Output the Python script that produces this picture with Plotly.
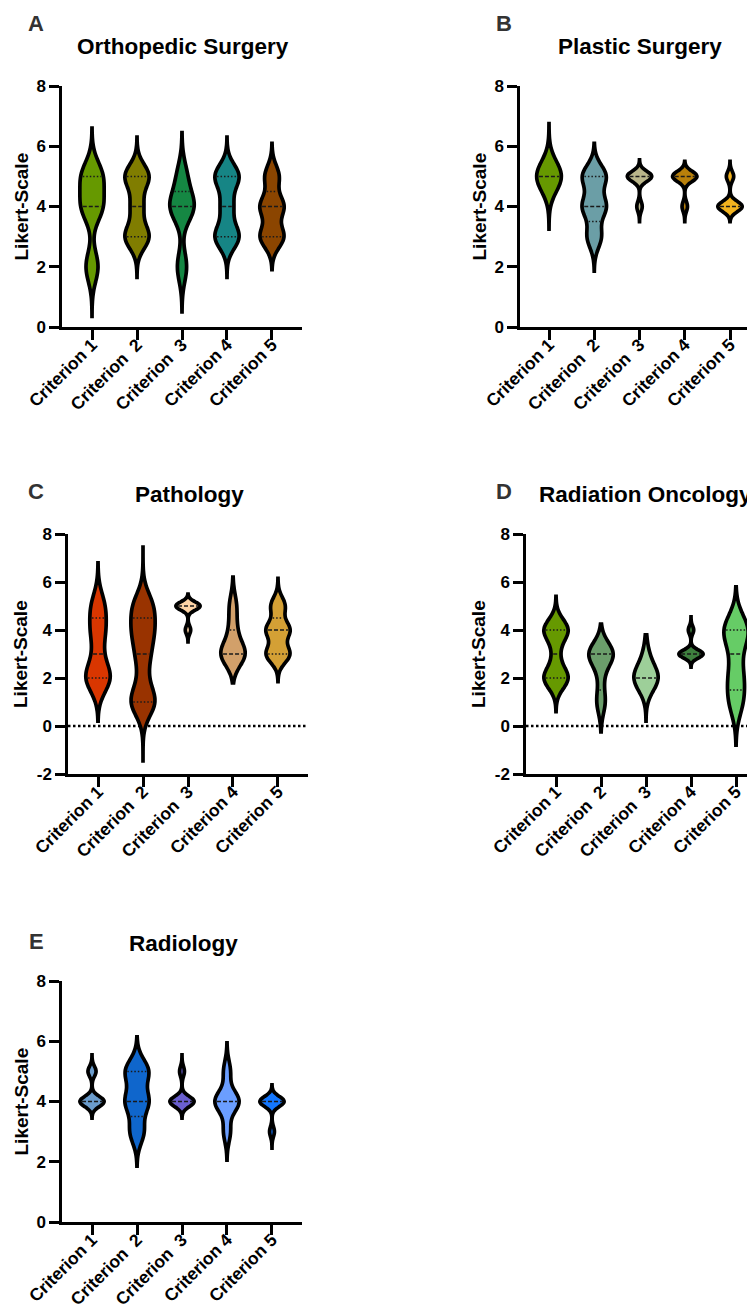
import numpy as np
import plotly.graph_objects as go

# ---------------- data ----------------
likert_levels = [1, 2, 3, 4, 5]
criteria = ["Criterion 1", "Criterion\u00a0 2", "Criterion\u00a0 3", "Criterion 4", "Criterion 5"]
y_ticks_pos = [0, 2, 4, 6, 8]
y_ticks_neg = [-2, 0, 2, 4, 6, 8]

# number of responses at Likert levels 1..5, one row per criterion
ortho_counts = [
    [0, 3, 0, 5, 5],
    [0, 0, 4, 2, 4],
    [0, 2, 0, 5, 2],
    [0, 0, 4, 2, 4],
    [0, 0, 5, 5, 3],
]
plastic_counts = [
    [0, 0, 0, 0, 8],
    [0, 0, 3, 5, 5],
    [0, 0, 0, 2, 9],
    [0, 0, 0, 2, 9],
    [0, 0, 0, 10, 3],
]
patho_counts = [
    [0, 4, 1, 2, 2],
    [4, 1, 2, 3, 3],
    [0, 0, 0, 2, 9],
    [0, 0, 7, 2, 2],
    [0, 0, 5, 5, 3],
]
radonc_counts = [
    [0, 4, 1, 4, 0],
    [2, 1, 6, 0, 0],
    [0, 6, 1, 0, 0],
    [0, 0, 9, 2, 0],
    [2, 2, 1, 4, 0],
]
radio_counts = [
    [0, 0, 0, 9, 3],
    [0, 0, 3, 5, 5],
    [0, 0, 0, 10, 2],
    [0, 0, 2, 7, 2],
    [0, 0, 2, 10, 0],
]

# ---------------- styles (kernel bandwidth, drawn extent, colours) ----------------
ortho_bw = [0.5, 0.4, 0.5, 0.4, 0.37]
ortho_span = [(0.35, 6.6), (1.65, 6.3), (0.5, 6.45), (1.65, 6.3), (1.9, 6.1)]
ortho_colors = ["#669900", "#807d00", "#158743", "#168585", "#8b4500"]

plastic_bw = [0.5, 0.38, 0.17, 0.17, 0.17]
plastic_span = [(3.25, 6.75), (1.85, 6.1), (3.5, 5.55), (3.5, 5.5), (3.5, 5.5)]
plastic_colors = ["#669900", "#6b9ea6", "#bab68a", "#b8800b", "#f2b31f"]

patho_bw = [0.6, 0.6, 0.17, 0.5, 0.37]
patho_span = [(0.2, 6.8), (-1.45, 7.45), (3.5, 5.5), (1.8, 6.2), (1.85, 6.15)]
patho_colors = ["#d93600", "#993300", "#fdd3a5", "#d2a06a", "#d4a035"]

radonc_bw = [0.45, 0.5, 0.55, 0.17, 0.65]
radonc_span = [(0.6, 5.4), (-0.25, 4.25), (0.2, 3.8), (2.45, 4.55), (-0.8, 5.8)]
radonc_colors = ["#669900", "#6b9e6b", "#9dcf99", "#3e7f3e", "#66cc66"]

radio_bw = [0.17, 0.4, 0.17, 0.35, 0.17]
radio_span = [(3.45, 5.55), (1.85, 6.15), (3.45, 5.55), (2.05, 5.95), (2.45, 4.55)]
radio_colors = ["#6b9ccc", "#0f66cc", "#6a5fcf", "#6b9eff", "#1477ff"]

# page body has an 8px margin: the figure is drawn 8px right/down of the window corner
OFF = 8
W, H = 755 - OFF, 1314 - OFF
FONT = "Liberation Sans, Arial, Helvetica, sans-serif"
VW = 0.54          # violin width in category units
PX_PER_CAT = 45.0
OUTLINE = 3.7


def px(x):
    return (x - OFF) / W


def py(y):
    return 1 - (y - OFF) / H


panels = [
    dict(letter="A", title="Orthopedic Surgery", counts=ortho_counts, bw=ortho_bw, span=ortho_span,
         colors=ortho_colors, xdom=(62, 302), ydom=(327, 86), xr=(-0.667, 4.667), yr=(0, 8),
         yt=y_ticks_pos, zero=False, letter_xy=(36, 23), title_xy=(183, 47), ytitle_x=21),
    dict(letter="B", title="Plastic Surgery", counts=plastic_counts, bw=plastic_bw, span=plastic_span,
         colors=plastic_colors, xdom=(520, 755), ydom=(327, 86), xr=(-0.641, 4.552), yr=(0, 8),
         yt=y_ticks_pos, zero=False, letter_xy=(504, 23), title_xy=(640, 47), ytitle_x=479),
    dict(letter="C", title="Pathology", counts=patho_counts, bw=patho_bw, span=patho_span,
         colors=patho_colors, xdom=(68, 308), ydom=(774, 534), xr=(-0.667, 4.667), yr=(-2, 8),
         yt=y_ticks_neg, zero=True, letter_xy=(36, 491), title_xy=(189, 495), ytitle_x=21),
    dict(letter="D", title="Radiation Oncology", counts=radonc_counts, bw=radonc_bw, span=radonc_span,
         colors=radonc_colors, xdom=(526, 755), ydom=(774, 534), xr=(-0.667, 4.422), yr=(-2, 8),
         yt=y_ticks_neg, zero=True, letter_xy=(504, 491), title_xy=(645.5, 495), ytitle_x=479),
    dict(letter="E", title="Radiology", counts=radio_counts, bw=radio_bw, span=radio_span,
         colors=radio_colors, xdom=(62, 302), ydom=(1222, 981), xr=(-0.667, 4.667), yr=(0, 8),
         yt=y_ticks_pos, zero=False, letter_xy=(36, 941), title_xy=(183, 943), ytitle_x=21),
]


def kde(y, vals, bw):
    u = (np.asarray(y)[:, None] - vals[None, :]) / bw
    return np.exp(-0.5 * u ** 2).sum(axis=1)


fig = go.Figure()
annotations = []
shapes = []
layout_axes = {}

for p_i, p in enumerate(panels):
    sfx = "" if p_i == 0 else str(p_i + 1)
    xref, yref = "x" + sfx, "y" + sfx
    med_x, med_y, q_x, q_y = [], [], [], []
    for i, cnt in enumerate(p["counts"]):
        vals = np.repeat(likert_levels, cnt).astype(float)
        bw = p["bw"][i]
        s0, s1 = p["span"][i]
        fig.add_trace(go.Violin(
            x=[i] * len(vals), y=vals, xaxis=xref, yaxis=yref,
            name=criteria[i], showlegend=False, points=False,
            bandwidth=bw, spanmode="manual", span=[s0, s1],
            width=VW, scalemode="width", scalegroup=f"{p['letter']}{i}",
            fillcolor=p["colors"][i], opacity=1,
            line=dict(color="black", width=OUTLINE),
            box=dict(visible=False), meanline=dict(visible=False),
            hoverinfo="skip",
        ))
        # median / quartile lines (Prism style)
        grid = np.linspace(s0, s1, 800)
        kmax = kde(grid, vals, bw).max()
        q1, med, q3 = np.percentile(vals, [25, 50, 75], method="weibull")
        inset = (OUTLINE / 2 + 0.3) / PX_PER_CAT
        for q, is_med in [(med, True), (q1, False), (q3, False)]:
            if not is_med and abs(q - med) < 1e-9:
                continue
            hw = VW / 2 * kde([q], vals, bw)[0] / kmax - inset
            if hw <= 0.01:
                continue
            if is_med:
                med_x += [i - hw, i + hw, None]
                med_y += [q, q, None]
            else:
                q_x += [i - hw, i + hw, None]
                q_y += [q, q, None]
    fig.add_trace(go.Scatter(x=med_x, y=med_y, xaxis=xref, yaxis=yref, mode="lines",
                             line=dict(color="#1a1a1a", width=1.5, dash="4px,2px"),
                             showlegend=False, hoverinfo="skip"))
    fig.add_trace(go.Scatter(x=q_x, y=q_y, xaxis=xref, yaxis=yref, mode="lines",
                             line=dict(color="#1a1a1a", width=1.5, dash="1.5px,2px"),
                             showlegend=False, hoverinfo="skip"))

    common = dict(showline=True, linewidth=2.5, linecolor="black", ticks="outside",
                  ticklen=10, tickwidth=2.5, tickcolor="black", showgrid=False,
                  zeroline=False, fixedrange=True, automargin=False)
    layout_axes["xaxis" + sfx] = dict(
        domain=[px(p["xdom"][0]), px(p["xdom"][1])], range=list(p["xr"]),
        anchor=yref, tickmode="array", tickvals=[0, 1, 2, 3, 4], ticktext=criteria,
        tickangle=-45, ticklabelstandoff=-12,
        tickfont=dict(family=FONT, size=17.5, color="black", weight="bold"), **common)
    layout_axes["yaxis" + sfx] = dict(
        domain=[py(p["ydom"][0]), py(p["ydom"][1])], range=list(p["yr"]),
        anchor=xref, tickmode="array", tickvals=p["yt"], ticktext=[str(v) for v in p["yt"]],
        tickfont=dict(family=FONT, size=17, color="black", weight="bold"), **common)

    if p["zero"]:
        shapes.append(dict(type="line", xref=xref + " domain", yref=yref, x0=0, x1=1, y0=0, y1=0,
                           line=dict(color="black", width=2.5, dash="2.5px,2.5px"), layer="below"))

    lx, ly = p["letter_xy"]
    annotations.append(dict(text=p["letter"], x=px(lx), y=py(ly), xref="paper", yref="paper",
                            xanchor="center", yanchor="middle", showarrow=False,
                            font=dict(family=FONT, size=22, color="#333333", weight="bold")))
    tx, ty = p["title_xy"]
    annotations.append(dict(text=p["title"], x=px(tx), y=py(ty), xref="paper", yref="paper",
                            xanchor="center", yanchor="middle", showarrow=False,
                            font=dict(family=FONT, size=22.5, color="black", weight="bold")))
    yc_mid = (p["ydom"][0] + p["ydom"][1]) / 2
    annotations.append(dict(text="Likert-Scale", x=px(p["ytitle_x"]), y=py(yc_mid),
                            xref="paper", yref="paper", xanchor="center", yanchor="middle",
                            textangle=-90, showarrow=False,
                            font=dict(family=FONT, size=19, color="black", weight="bold")))

fig.update_layout(
    width=W, height=H, margin=dict(l=0, r=0, t=0, b=0, autoexpand=False),
    paper_bgcolor="white", plot_bgcolor="white",
    showlegend=False, violinmode="overlay",
    annotations=annotations, shapes=shapes,
    **layout_axes,
)

fig.write_html("out.html")
